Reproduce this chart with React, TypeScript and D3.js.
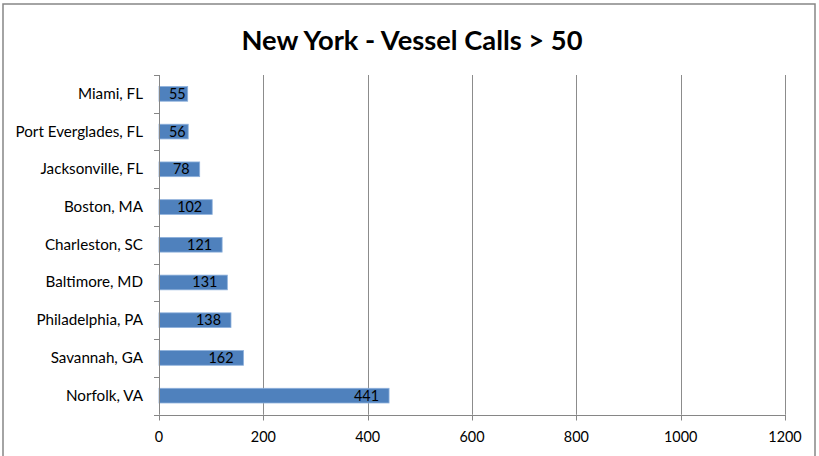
import React from "react";
import * as d3 from "d3";

const categories = [
  "Miami, FL",
  "Port Everglades, FL",
  "Jacksonville, FL",
  "Boston, MA",
  "Charleston, SC",
  "Baltimore, MD",
  "Philadelphia, PA",
  "Savannah, GA",
  "Norfolk, VA",
];
const values = [55, 56, 78, 102, 121, 131, 138, 162, 441];
const xTicks = [0, 200, 400, 600, 800, 1000, 1200];
const title = "New York - Vessel Calls > 50";

const W = 819;
const H = 456;
const FONT = "Lato, 'Open Sans', sans-serif";

export default function App() {
  const left = 159;
  const right = 785;
  const top = 75;
  const bottom = 414.5;

  const x = d3.scaleLinear().domain([0, 1200]).range([left, right]);
  const y = d3
    .scaleBand<string>()
    .domain(categories)
    .range([top, bottom])
    .paddingInner(0.61)
    .paddingOuter(0.305);
  const step = y.step();
  const bandEdges = d3.range(categories.length + 1).map((i) => top + i * step);

  const labelFs = 14.4;
  const digitW = labelFs * 0.58;

  return (
    <div style={{ position: "absolute", left: 0, top: 0 }}>
      <svg width={W} height={H} style={{ display: "block" }}>
        <rect x={0} y={0} width={W} height={H} fill="#ffffff" />
        <rect
          x={3}
          y={4}
          width={812}
          height={470}
          fill="none"
          stroke="#868686"
          strokeWidth={1.5}
        />
        <text
          x={412}
          y={50}
          textAnchor="middle"
          fontFamily={FONT}
          fontWeight="bold"
          fontSize={27}
          fill="#000"
          textLength={341}
          lengthAdjust="spacingAndGlyphs"
        >
          {title}
        </text>
        {xTicks.slice(1).map((t) => (
          <line
            key={"g" + t}
            x1={Math.round(x(t)) + 0.5}
            x2={Math.round(x(t)) + 0.5}
            y1={top}
            y2={bottom}
            stroke="#8c8c8c"
            strokeWidth={1}
          />
        ))}
        {values.map((v, i) => (
          <rect
            key={"b" + i}
            x={x(0)}
            y={y(categories[i])}
            width={x(v) - x(0)}
            height={y.bandwidth()}
            fill="#4F81BD"
            stroke="#8eb1dc"
            strokeWidth={0.8}
          />
        ))}
        {values.map((v, i) => {
          const s = String(v);
          const w = s.length * digitW;
          const end = Math.max(x(v) - 10, x(0) + 10 + w);
          return (
            <text
              key={"l" + i}
              x={end}
              y={(y(categories[i]) as number) + y.bandwidth() / 2 + 5}
              textAnchor="end"
              fontFamily={FONT}
              fontSize={labelFs}
              fill="#000"
            >
              {s}
            </text>
          );
        })}
        {/* category axis */}
        <line
          x1={left + 0.5}
          x2={left + 0.5}
          y1={top}
          y2={bottom}
          stroke="#868686"
          strokeWidth={1}
        />
        {bandEdges.map((e, i) => (
          <line
            key={"ct" + i}
            x1={left - 5}
            x2={left}
            y1={Math.round(e) + 0.5}
            y2={Math.round(e) + 0.5}
            stroke="#868686"
            strokeWidth={1}
          />
        ))}
        {categories.map((c) => (
          <text
            key={"c" + c}
            x={143}
            y={(y(c) as number) + y.bandwidth() / 2 + 5}
            textAnchor="end"
            fontFamily={FONT}
            fontSize={15.2}
            fill="#000"
          >
            {c}
          </text>
        ))}
        {/* value axis */}
        <line
          x1={left - 5}
          x2={right}
          y1={Math.round(bottom) + 0.5}
          y2={Math.round(bottom) + 0.5}
          stroke="#868686"
          strokeWidth={1}
        />
        {xTicks.map((t) => (
          <g key={"xt" + t}>
            <line
              x1={Math.round(x(t)) + 0.5}
              x2={Math.round(x(t)) + 0.5}
              y1={bottom}
              y2={bottom + 6}
              stroke="#868686"
              strokeWidth={1}
            />
            <text
              x={x(t)}
              y={442}
              textAnchor="middle"
              fontFamily={FONT}
              fontSize={14.4}
              fill="#000"
            >
              {t}
            </text>
          </g>
        ))}
      </svg>
    </div>
  );
}
